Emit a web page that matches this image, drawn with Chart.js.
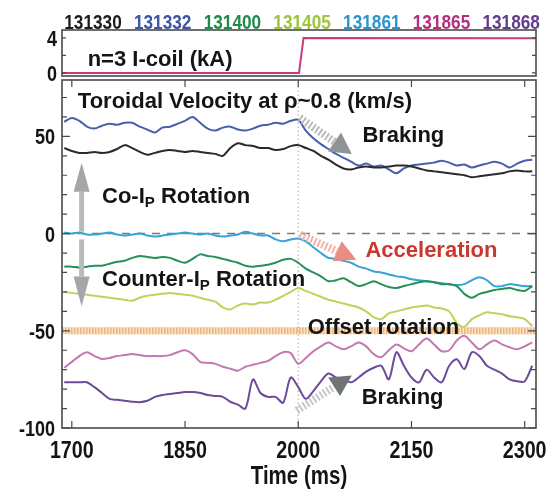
<!DOCTYPE html>
<html>
<head>
<meta charset="utf-8">
<title>Toroidal velocity braking</title>
<script src="https://cdn.jsdelivr.net/npm/chart.js@4.4.0/dist/chart.umd.min.js"></script>
<style>
  html, body { margin: 0; padding: 0; background: #fff; }
  #wrap { position: relative; width: 555px; height: 491px; overflow: hidden; }
  #wrap canvas { position: absolute; left: 0; top: 0; }
</style>
</head>
<body>
<div id="wrap">
  <canvas id="vel-canvas" width="555" height="491"></canvas>
  <canvas id="coil-canvas" width="555" height="95"></canvas>
</div>
<script>
/* -------------  DATA  ------------- */

const shots = ['131330', '131332', '131400', '131405', '131861', '131865', '131868'];
const shotColors = ['#1c1c1c', '#3d56a6', '#1f8a4c', '#9cc43c', '#2c95cf', '#b4307f', '#633c8c'];
const lineColors = ['#2a2a2a', '#4660ae', '#25905a', '#bdd35a', '#36a3d8', '#c677b2', '#6c4b98'];

const times = [1690, 1700, 1710, 1720, 1730, 1740, 1750, 1760, 1770, 1780,
  1790, 1800, 1810, 1820, 1830, 1840, 1850, 1860, 1870, 1880,
  1890, 1900, 1910, 1920, 1930, 1940, 1950, 1960, 1970, 1980,
  1990, 2000, 2010, 2020, 2030, 2040, 2050, 2060, 2070, 2080,
  2090, 2100, 2110, 2120, 2130, 2140, 2150, 2160, 2170, 2180,
  2190, 2200, 2210, 2220, 2230, 2240, 2250, 2260, 2270, 2280,
  2290, 2300, 2310];

const v131330 = [44, 42.5, 41.5, 41.5, 42, 41.5, 42, 43.5, 45.5, 44,
  42, 40.5, 41.5, 42.5, 43, 42.5, 42, 42.5, 42, 41.5,
  41, 40, 44, 46.5, 45.5, 45, 44, 44, 43, 43.5,
  45, 45.5, 44, 42.5, 40, 38, 35.5, 33.5, 33, 34,
  34.5, 34, 34, 34.5, 35, 35, 34.5, 33.5, 32.5, 32,
  31.5, 31, 30.5, 30, 29, 29.5, 30, 30.5, 31, 32,
  32.5, 32, 32];
const v131332 = [57.5, 59.5, 58, 55, 54, 55.5, 56.5, 56, 57, 57,
  55, 53.5, 52, 54.5, 55, 56.5, 58, 60, 57, 54,
  53, 54.5, 55, 53.5, 53, 54, 55.5, 56, 57, 56.5,
  58, 58.5, 53, 49, 46, 43.5, 41, 39, 37, 35,
  36, 34.5, 35, 33, 31, 33.5, 35, 35.5, 36, 36.5,
  37.5, 36.5, 35, 35.5, 34, 35, 36, 37, 36, 34,
  36, 37.5, 38];
const v131400 = [-17, -17, -17.5, -17, -16.5, -16.5, -15.5, -14.5, -14, -12.5,
  -11.5, -12, -12.5, -12, -12.5, -14, -15, -13, -10.7, -11.5,
  -12, -13, -14, -15, -16.5, -17, -16.5, -16, -15, -13.5,
  -13, -15, -18, -20, -22, -24.5, -24, -23, -25, -27,
  -26, -24.5, -26, -27.5, -28, -27, -26, -25, -24.5, -25,
  -26, -26, -27, -31, -33, -31, -30, -29, -28.5, -28,
  -29, -29.5, -27];
const v131405 = [-30, -30.5, -31, -31.5, -32, -32.5, -33, -33.5, -34, -34.5,
  -33, -32, -31.5, -31, -30.5, -31, -31.5, -32, -33, -34,
  -35, -38, -39, -37, -36, -36.5, -35.5, -35.5, -34, -32,
  -30, -28, -29.5, -31, -32.5, -34, -35, -36, -37, -38,
  -40, -43, -44, -41, -40, -39, -38, -37.5, -37, -38,
  -38.5, -40, -46, -48, -44, -42, -40.5, -41, -41.5, -42.5,
  -43, -44, -47.5];
const v131861 = [0.5, 0, 0.5, -0.5, -0.5, 0, 0.5, -0.5, -1, -0.5,
  0, -1, -1.5, -1, -0.5, 0, 0.5, 0, -0.5, 0,
  -1, -1.5, -1, -0.5, 1, 0, -1, -1, -3, -4,
  -3, -2.5, -4, -7, -10, -12.5, -13, -14, -15, -17,
  -18, -19.5, -20, -21, -22, -22.5, -23.5, -24, -24.5, -25,
  -25.5, -26, -26.5, -26, -24, -22.5, -24, -27, -27, -26,
  -26.5, -27, -27];
const v131865 = [-69, -66, -63, -61, -63, -64.5, -64, -63, -62.5, -62,
  -62.5, -63, -63, -63, -62.5, -61, -60, -62, -66, -66.5,
  -67, -68.5, -69.5, -70.5, -68.5, -67.5, -66.5, -65.5, -63, -61,
  -61.5, -67, -64, -60.5, -58, -56, -58, -59.5, -58, -56,
  -58, -62, -63.5, -60, -57, -59, -60.5, -57, -54, -57,
  -60.5, -60, -55, -52.6, -56, -59.5, -57, -55, -57, -58.5,
  -59.5, -58, -56];
const v131868 = [-76.5, -76.5, -76.5, -76.5, -79, -82, -85, -85.5, -86, -86.5,
  -86.7, -86, -84, -83, -82.5, -82, -81.5, -81.5, -82, -83,
  -83.5, -84, -86.5, -88, -90, -75, -82, -84, -84, -87,
  -74, -79, -85, -81, -76, -72, -74, -75, -76.5, -74,
  -71, -69, -68, -75, -61, -68, -74, -76.5, -70, -74,
  -76.5, -68, -64.6, -69.7, -61, -63, -68, -70, -72, -75,
  -76, -76, -68];
const velocities = [v131330, v131332, v131400, v131405, v131861, v131865, v131868];

const coilTimes = [1687, 2001, 2007, 2315];
const coilCurrent = [0, 0, 4, 3.95];

const xTicks = [1700, 1850, 2000, 2150, 2300];
const yTicks = [-100, -90, -80, -70, -60, -50, -40, -30, -20, -10, 0, 10, 20, 30, 40, 50, 60, 70];
const yLabels = [-100, -50, 0, 50];
const coilTicks = [0, 2, 4];
const coilLabels = [0, 4];

const timeRange = [1687, 2315];
const velRange = [-100, 79];
const coilRange = [-0.35, 4.9];
const zeroLevel = 0;
const offsetLevel = -50;
const coilOnTime = 2000;

/* -------------  STYLE  ------------- */

const FONT_WIDE = '"Liberation Sans", Arial, sans-serif';
const NARROW = 0.82; // horizontal squeeze for the condensed axis font
const FRAME = '#4a4a4a';
const INK = '#141414';

const notes = [
  { t: 1708, v: 64.6, parts: [{ s: 'Toroidal Velocity at ρ~0.8 (km/s)' }] },
  { t: 2085, v: 47.2, parts: [{ s: 'Braking' }] },
  { t: 1740, v: 15.9, parts: [{ s: 'Co-I' }, { s: 'P', sub: true }, { s: ' Rotation' }] },
  { t: 2089, v: -12.3, parts: [{ s: 'Acceleration' }], color: '#c9382e' },
  { t: 1740, v: -27.2, parts: [{ s: 'Counter-I' }, { s: 'P', sub: true }, { s: ' Rotation' }] },
  { t: 2012.6, v: -51.8, parts: [{ s: 'Offset rotation' }] },
  { t: 2084, v: -87.7, parts: [{ s: 'Braking' }] },
];

const arrows = [
  { from: [1713, 1], to: [1713, 36.5], head: 29, half: 8, width: 5, shaft: '#b7babd', tip: '#a3a7aa' },
  { from: [1713, -3], to: [1713, -37.5], head: 30, half: 8, width: 5, shaft: '#b7babd', tip: '#a3a7aa' },
  { from: [2002, 59.5], to: [2071, 41], head: 21, half: 11.5, width: 8, dash: [2, 2], shaft: '#b9bcbf', tip: '#8e9396' },
  { from: [2002, -0.5], to: [2077, -13.5], head: 21, half: 11, width: 8, dash: [2, 2], shaft: '#f1b3aa', tip: '#e88d82' },
  { from: [1998, -91], to: [2071, -73], head: 21, half: 11, width: 8, dash: [2, 2], shaft: '#c5c8cb', tip: '#6f7477' },
];

/* -------------  HELPERS  ------------- */

/**
 * Writes text in a squeezed bold face, like the condensed font of the figure.
 */
function drawCondensed(ctx, text, x, y, size, align) {
  ctx.save();
  ctx.translate(x, y);
  ctx.scale(NARROW, 1);
  ctx.font = 'bold ' + size + 'px ' + FONT_WIDE;
  ctx.textAlign = align;
  ctx.textBaseline = 'alphabetic';
  ctx.fillText(text, 0, 0);
  ctx.restore();
}

/**
 * Converts a [time, value] pair to canvas pixels.
 */
function toPx(chart, p) {
  return { x: chart.scales.x.getPixelForValue(p[0]), y: chart.scales.y.getPixelForValue(p[1]) };
}

function drawArrow(ctx, chart, a) {
  const p0 = toPx(chart, a.from);
  const p1 = toPx(chart, a.to);
  const ang = Math.atan2(p1.y - p0.y, p1.x - p0.x);
  const bx = p1.x - Math.cos(ang) * a.head;
  const by = p1.y - Math.sin(ang) * a.head;
  ctx.strokeStyle = a.shaft;
  ctx.lineWidth = a.width;
  ctx.lineCap = 'butt';
  ctx.setLineDash(a.dash || []);
  ctx.beginPath();
  ctx.moveTo(p0.x, p0.y);
  ctx.lineTo(bx, by);
  ctx.stroke();
  ctx.setLineDash([]);
  const nx = -Math.sin(ang) * a.half;
  const ny = Math.cos(ang) * a.half;
  ctx.fillStyle = a.tip;
  ctx.beginPath();
  ctx.moveTo(p1.x, p1.y);
  ctx.lineTo(bx + nx, by + ny);
  ctx.lineTo(bx - nx, by - ny);
  ctx.closePath();
  ctx.fill();
}

function drawNote(ctx, chart, note) {
  const p = toPx(chart, [note.t, note.v]);
  let x = p.x;
  ctx.fillStyle = note.color || INK;
  ctx.textAlign = 'left';
  ctx.textBaseline = 'alphabetic';
  note.parts.forEach((part) => {
    ctx.font = part.sub ? 'bold 15px ' + FONT_WIDE : 'bold 22px ' + FONT_WIDE;
    ctx.fillText(part.s, x, part.sub ? p.y + 4 : p.y);
    x += ctx.measureText(part.s).width;
  });
}

/* -------------  PLUGINS  ------------- */

/**
 * Draws the box round the plot area, the inward tick marks and the tick labels.
 */
const frameTicks = {
  id: 'frameTicks',
  afterDraw(chart, args, opts) {
    const { ctx, chartArea: a, scales } = chart;
    ctx.save();
    ctx.strokeStyle = FRAME;
    ctx.lineWidth = 1.2;
    ctx.beginPath();
    if (opts.xLabels) {
      scales.x.ticks.forEach((tk) => {
        const x = scales.x.getPixelForValue(tk.value);
        ctx.moveTo(x, a.bottom);
        ctx.lineTo(x, a.bottom - 7);
        ctx.moveTo(x, a.top);
        ctx.lineTo(x, a.top + 7);
      });
    }
    scales.y.ticks.forEach((tk) => {
      const y = scales.y.getPixelForValue(tk.value);
      const len = opts.yLabels.includes(tk.value) ? opts.major : opts.minor;
      ctx.moveTo(a.left, y);
      ctx.lineTo(a.left + len, y);
      ctx.moveTo(a.right, y);
      ctx.lineTo(a.right - len, y);
    });
    ctx.stroke();
    ctx.lineWidth = 1.6;
    ctx.strokeRect(a.left, a.top, a.right - a.left, a.bottom - a.top);

    ctx.fillStyle = INK;
    scales.y.ticks.forEach((tk) => {
      if (!opts.yLabels.includes(tk.value)) return;
      const y = scales.y.getPixelForValue(tk.value);
      drawCondensed(ctx, String(tk.value), a.left - opts.yPad, y + 8, 22, 'right');
    });
    if (opts.xLabels) {
      scales.x.ticks.forEach((tk) => {
        const x = scales.x.getPixelForValue(tk.value);
        drawCondensed(ctx, String(tk.value), x, a.bottom + 30, 24, 'center');
      });
      drawCondensed(ctx, opts.xTitle, (a.left + a.right) / 2, a.bottom + 56, 25, 'center');
    }
    ctx.restore();
  },
};

/**
 * Arrows and labels inside the velocity panel.
 */
const velocityNotes = {
  id: 'velocityNotes',
  afterDatasetsDraw(chart) {
    const ctx = chart.ctx;
    ctx.save();
    arrows.forEach((a) => drawArrow(ctx, chart, a));
    notes.forEach((n) => drawNote(ctx, chart, n));
    ctx.restore();
  },
};

/**
 * Coloured shot numbers above the coil panel and the panel label.
 */
const coilNotes = {
  id: 'coilNotes',
  afterDatasetsDraw(chart) {
    const { ctx, chartArea: a } = chart;
    ctx.save();
    shots.forEach((shot, i) => {
      ctx.fillStyle = shotColors[i];
      drawCondensed(ctx, shot, a.left + 31 + i * 69.7, a.top - 1, 21, 'center');
    });
    drawNote(ctx, chart, { t: 1721, v: 0.74, parts: [{ s: 'n=3 I-coil (kA)' }] });
    ctx.restore();
  },
};

/* -------------  CHARTS  ------------- */

function flatLine(level, color, width, dash, order) {
  return {
    data: [{ x: timeRange[0], y: level }, { x: timeRange[1], y: level }],
    borderColor: color,
    borderWidth: width,
    borderDash: dash,
    pointRadius: 0,
    order: order,
  };
}

function setVelocityData() {
  const datasets = shots.map((shot, i) => ({
    label: shot,
    data: times.map((t, k) => ({ x: t, y: velocities[i][k] })),
    borderColor: lineColors[i],
    borderWidth: 2,
    borderJoinStyle: 'round',
    tension: 0.3,
    pointRadius: 0,
    order: 1,
  }));
  datasets.push(flatLine(offsetLevel, '#fbe3c6', 7, [], 8));
  datasets.push(flatLine(offsetLevel, '#ebb67c', 7, [1.5, 1.5], 7));
  datasets.push(flatLine(zeroLevel, '#7a7a7a', 1.5, [8, 7], 6));
  datasets.push({
    data: [{ x: coilOnTime, y: velRange[0] }, { x: coilOnTime, y: velRange[1] }],
    borderColor: '#b5b5b5',
    borderWidth: 1.2,
    borderDash: [1.5, 2.5],
    pointRadius: 0,
    order: 6,
  });
  return { datasets: datasets };
}

const hiddenTicks = {
  grid: { display: false, drawTicks: false },
  border: { display: false },
  ticks: { display: false },
};

function setVelocityConfig() {
  return {
    type: 'line',
    data: setVelocityData(),
    options: {
      responsive: false,
      animation: false,
      layout: { padding: { left: 0, right: 19, top: 80, bottom: 0 } },
      plugins: {
        legend: { display: false },
        tooltip: { enabled: false },
        frameTicks: { xLabels: true, xTitle: 'Time (ms)', yLabels: yLabels, yPad: 7, major: 8, minor: 5 },
      },
      scales: {
        x: {
          ...hiddenTicks,
          type: 'linear',
          min: timeRange[0],
          max: timeRange[1],
          afterBuildTicks: (s) => { s.ticks = xTicks.map((v) => ({ value: v })); },
          afterFit: (s) => { s.height = 63; },
        },
        y: {
          ...hiddenTicks,
          min: velRange[0],
          max: velRange[1],
          afterBuildTicks: (s) => { s.ticks = yTicks.map((v) => ({ value: v })); },
          afterFit: (s) => { s.width = 62; },
        },
      },
    },
    plugins: [velocityNotes, frameTicks],
  };
}

function setCoilConfig() {
  return {
    type: 'line',
    data: {
      datasets: [{
        label: 'I-coil',
        data: coilTimes.map((t, k) => ({ x: t, y: coilCurrent[k] })),
        borderColor: '#c63d7c',
        borderWidth: 2,
        pointRadius: 0,
      }],
    },
    options: {
      responsive: false,
      animation: false,
      layout: { padding: { left: 0, right: 19, top: 30, bottom: 19 } },
      plugins: {
        legend: { display: false },
        tooltip: { enabled: false },
        frameTicks: { xLabels: false, yLabels: coilLabels, yPad: 5, major: 4, minor: 4 },
      },
      scales: {
        x: { type: 'linear', min: timeRange[0], max: timeRange[1], display: false },
        y: {
          ...hiddenTicks,
          min: coilRange[0],
          max: coilRange[1],
          afterBuildTicks: (s) => { s.ticks = coilTicks.map((v) => ({ value: v })); },
          afterFit: (s) => { s.width = 62; },
        },
      },
    },
    plugins: [coilNotes, frameTicks],
  };
}

new Chart(document.getElementById('vel-canvas'), setVelocityConfig());
new Chart(document.getElementById('coil-canvas'), setCoilConfig());
</script>
</body>
</html>
